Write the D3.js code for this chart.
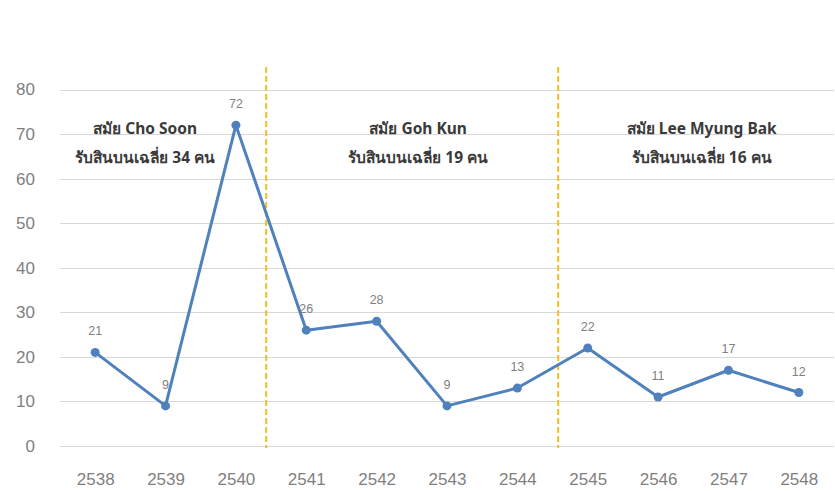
<!DOCTYPE html>
<html><head><meta charset="utf-8">
<script src="https://cdn.jsdelivr.net/npm/d3@7/dist/d3.min.js"></script>
<style>
html,body{margin:0;padding:0;background:#fff;}
svg{display:block;}
</style></head>
<body>
<svg id="chart" width="835" height="491"></svg>
<script>
const years = ["2538","2539","2540","2541","2542","2543","2544","2545","2546","2547","2548"];
const values = [21, 9, 72, 26, 28, 9, 13, 22, 11, 17, 12];
const yTicks = [0, 10, 20, 30, 40, 50, 60, 70, 80];
// divider positions expressed in category-index units
const dividers = [2.43, 6.58];
// period annotations: centre in category-index units
const periodCenters = [0.71, 4.59, 8.62];
const periodTitles = ["สมัย Cho Soon", "สมัย Goh Kun", "สมัย Lee Myung Bak"];
const periodNotes = ["รับสินบนเฉลี่ย 34 คน", "รับสินบนเฉลี่ย 19 คน", "รับสินบนเฉลี่ย 16 คน"];

const W = 835, H = 491;
const m = {left: 60, right: 1, top: 89.5, bottom: 45};
const svg = d3.select("#chart");
const font = "'Liberation Sans', 'Noto Sans', Tahoma, sans-serif";

const x = d3.scalePoint().domain(years).range([m.left, W - m.right]).padding(0.5);
const y = d3.scaleLinear().domain([0, 80]).range([H - m.bottom, m.top]);
const xi = i => x(years[0]) + i * x.step();

// gridlines
svg.append("g").selectAll("line").data(yTicks).join("line")
  .attr("x1", m.left).attr("x2", W - m.right)
  .attr("y1", d => Math.round(y(d)) + 0.5).attr("y2", d => Math.round(y(d)) + 0.5)
  .attr("stroke", "#d9d9d9").attr("stroke-width", 1);

// y axis labels
const yAxis = d3.axisLeft(y).tickValues(yTicks).tickSize(0).tickPadding(0);
const gy = svg.append("g").attr("transform", `translate(${35},0)`).call(yAxis);
gy.select(".domain").remove();
gy.selectAll("text").attr("font-family", font).attr("font-size", 17).attr("fill", "#7f7f7f");

// x axis labels
const xAxis = d3.axisBottom(x).tickSize(0).tickPadding(0);
const gx = svg.append("g").attr("transform", `translate(0,${H - 18})`).call(xAxis);
gx.select(".domain").remove();
gx.selectAll("text").attr("font-family", font).attr("font-size", 17).attr("fill", "#7f7f7f");

// dividers
svg.append("g").selectAll("line").data(dividers).join("line")
  .attr("x1", d => xi(d)).attr("x2", d => xi(d))
  .attr("y1", 67).attr("y2", y(0) + 2)
  .attr("stroke", "#f5bd1f").attr("stroke-width", 2).attr("stroke-dasharray", "6,3");

// line
const line = d3.line().x((d, i) => x(years[i])).y(d => y(d));
svg.append("path").datum(values).attr("d", line)
  .attr("fill", "none").attr("stroke", "#4f81bd").attr("stroke-width", 3).attr("stroke-linejoin", "round");

svg.append("g").selectAll("circle").data(values).join("circle")
  .attr("cx", (d, i) => x(years[i])).attr("cy", d => y(d)).attr("r", 4.5)
  .attr("fill", "#4f81bd");

// data labels
svg.append("g").selectAll("text").data(values).join("text")
  .attr("x", (d, i) => x(years[i])).attr("y", d => y(d) - 17)
  .attr("text-anchor", "middle")
  .attr("font-family", font).attr("font-size", 12.5).attr("fill", "#7f7f7f")
  .text(d => d);

// period annotations
const ann = svg.append("g");
ann.selectAll("text.t").data(periodTitles).join("text").attr("class", "t")
  .attr("x", (d, i) => xi(periodCenters[i])).attr("y", 134)
  .attr("text-anchor", "middle").attr("font-family", "Tahoma, 'Noto Sans', sans-serif")
  .attr("font-weight", "bold").attr("font-size", 15.5).attr("fill", "#3a3a3a")
  .text(d => d);
ann.selectAll("text.n").data(periodNotes).join("text").attr("class", "n")
  .attr("x", (d, i) => xi(periodCenters[i])).attr("y", 163)
  .attr("text-anchor", "middle").attr("font-family", "Tahoma, 'Noto Sans', sans-serif")
  .attr("font-weight", "bold").attr("font-size", 15.5).attr("fill", "#3a3a3a")
  .text(d => d);
</script>
</body></html>
